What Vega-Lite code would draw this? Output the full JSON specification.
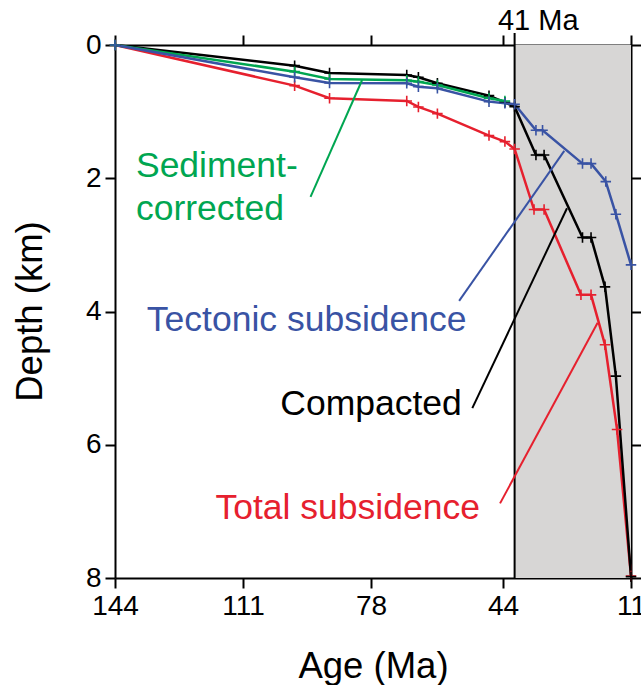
{
  "$schema": "https://vega.github.io/schema/vega-lite/v6.json",
  "width": 516,
  "height": 533,
  "autosize": {"type": "none"},
  "padding": {"left": 115, "top": 45, "right": 10, "bottom": 107},
  "background": "white",
  "config": {
    "view": {"stroke": null},
    "font": "Liberation Sans",
    "axis": {"grid": false, "zindex": 1, "domainColor": "black", "tickColor": "black", "domainWidth": 2, "tickWidth": 2, "labelColor": "black", "titleColor": "black", "labelFont": "Liberation Sans", "titleFont": "Liberation Sans", "titleFontWeight": "normal", "labelFontSize": 28, "titleFontSize": 36.5}
  },
  "datasets": {
    "series": [
      {"series": "Total", "age": 144, "depth": 0},
      {"series": "Total", "age": 97.7, "depth": 0.61},
      {"series": "Total", "age": 88.7, "depth": 0.8},
      {"series": "Total", "age": 68.8, "depth": 0.84},
      {"series": "Total", "age": 65.8, "depth": 0.93},
      {"series": "Total", "age": 60.9, "depth": 1.03},
      {"series": "Total", "age": 47.6, "depth": 1.36},
      {"series": "Total", "age": 43.5, "depth": 1.45},
      {"series": "Total", "age": 41, "depth": 1.56},
      {"series": "Total", "age": 36, "depth": 2.47},
      {"series": "Total", "age": 33.4, "depth": 2.47},
      {"series": "Total", "age": 23.9, "depth": 3.75},
      {"series": "Total", "age": 21.3, "depth": 3.75},
      {"series": "Total", "age": 17.7, "depth": 4.5},
      {"series": "Total", "age": 14.6, "depth": 5.77},
      {"series": "Total", "age": 11, "depth": 7.97},
      {"series": "Compacted", "age": 144, "depth": 0},
      {"series": "Compacted", "age": 97.7, "depth": 0.31},
      {"series": "Compacted", "age": 88.7, "depth": 0.42},
      {"series": "Compacted", "age": 68.8, "depth": 0.45},
      {"series": "Compacted", "age": 65.8, "depth": 0.485},
      {"series": "Compacted", "age": 60.9, "depth": 0.575},
      {"series": "Compacted", "age": 47.6, "depth": 0.76},
      {"series": "Compacted", "age": 43.5, "depth": 0.86},
      {"series": "Compacted", "age": 41, "depth": 0.925},
      {"series": "Compacted", "age": 35.5, "depth": 1.65},
      {"series": "Compacted", "age": 33.4, "depth": 1.65},
      {"series": "Compacted", "age": 23.5, "depth": 2.89},
      {"series": "Compacted", "age": 21.3, "depth": 2.89},
      {"series": "Compacted", "age": 17.7, "depth": 3.63},
      {"series": "Compacted", "age": 14.9, "depth": 4.97},
      {"series": "Compacted", "age": 11, "depth": 7.98},
      {"series": "Sediment", "age": 144, "depth": 0},
      {"series": "Sediment", "age": 97.7, "depth": 0.4},
      {"series": "Sediment", "age": 88.7, "depth": 0.51},
      {"series": "Sediment", "age": 68.8, "depth": 0.53},
      {"series": "Sediment", "age": 65.8, "depth": 0.55},
      {"series": "Sediment", "age": 60.9, "depth": 0.6},
      {"series": "Sediment", "age": 47.6, "depth": 0.8},
      {"series": "Sediment", "age": 43.5, "depth": 0.84},
      {"series": "Tectonic", "age": 144, "depth": 0},
      {"series": "Tectonic", "age": 97.7, "depth": 0.485},
      {"series": "Tectonic", "age": 88.7, "depth": 0.57},
      {"series": "Tectonic", "age": 68.8, "depth": 0.575},
      {"series": "Tectonic", "age": 65.8, "depth": 0.625},
      {"series": "Tectonic", "age": 60.9, "depth": 0.65},
      {"series": "Tectonic", "age": 47.6, "depth": 0.85},
      {"series": "Tectonic", "age": 43.5, "depth": 0.875},
      {"series": "Tectonic", "age": 41, "depth": 0.89},
      {"series": "Tectonic", "age": 35.5, "depth": 1.28},
      {"series": "Tectonic", "age": 33.8, "depth": 1.28},
      {"series": "Tectonic", "age": 23.5, "depth": 1.78},
      {"series": "Tectonic", "age": 21.3, "depth": 1.78},
      {"series": "Tectonic", "age": 17.5, "depth": 2.05},
      {"series": "Tectonic", "age": 14.9, "depth": 2.54},
      {"series": "Tectonic", "age": 11, "depth": 3.3}
    ],
    "leaders": [
      {"series": "Sediment", "age": 93.6, "depth": 2.28, "age2": 80.3, "depth2": 0.525},
      {"series": "Tectonic", "age": 55.3, "depth": 3.84, "age2": 28.2, "depth2": 1.59},
      {"series": "Compacted", "age": 51.9, "depth": 5.45, "age2": 27.5, "depth2": 2.45},
      {"series": "Total", "age": 44.75, "depth": 6.88, "age2": 19.6, "depth2": 4.17}
    ],
    "labels": [
      {"series": "Sediment", "label": "Sediment-", "age": 138.6, "depth": 1.98},
      {"series": "Sediment", "label": "corrected", "age": 138.6, "depth": 2.63},
      {"series": "Tectonic", "label": "Tectonic subsidence", "age": 135.8, "depth": 4.29},
      {"series": "Compacted", "label": "Compacted", "age": 101.4, "depth": 5.56},
      {"series": "Total", "label": "Total subsidence", "age": 118.1, "depth": 7.11}
    ],
    "band": [{"start": 41, "end": 11, "top": 0, "bottom": 8}],
    "marker": [{"age": 41, "top": -0.18, "bottom": 8, "label": "41 Ma", "labelAge": 45.3, "labelDepth": -0.23}]
  },
  "layer": [
    {
      "data": {"name": "band"},
      "mark": {"type": "rect", "color": "#d7d6d5"},
      "encoding": {
        "x": {"field": "start", "type": "quantitative", "scale": {"domain": [11, 144], "reverse": true, "nice": false, "zero": false}, "axis": {"orient": "bottom", "values": [144, 111, 78, 44, 11], "title": "Age (Ma)", "tickSize": 10, "labelPadding": 4, "labelFlush": false, "titleBaseline": "alphabetic", "titleY": 99}},
        "x2": {"field": "end"},
        "y": {"field": "top", "type": "quantitative", "scale": {"domain": [0, 8], "reverse": true, "nice": false, "zero": false}, "axis": {"orient": "left", "values": [0, 2, 4, 6, 8], "title": "Depth (km)", "tickSize": 10, "labelPadding": 4, "labelFlush": false, "titleBaseline": "alphabetic", "titleX": -74, "titleY": 266}},
        "y2": {"field": "bottom"}
      }
    },
    {
      "data": {"name": "marker"},
      "mark": {"type": "rule", "color": "black", "strokeWidth": 2},
      "encoding": {
        "x": {"field": "age", "type": "quantitative", "axis": {"orient": "top", "values": [144, 111, 78, 44, 11], "labels": false, "title": null, "tickSize": 10, "encode": {"ticks": {"update": {"y2": {"value": 10}}}}}},
        "y": {"field": "top", "type": "quantitative", "axis": {"orient": "right", "values": [0, 2, 4, 6, 8], "labels": false, "title": null, "tickSize": 10}},
        "y2": {"field": "bottom"}
      }
    },
    {
      "data": {"name": "marker"},
      "mark": {"type": "text", "align": "left", "baseline": "alphabetic", "fontSize": 29, "color": "black"},
      "encoding": {
        "x": {"field": "labelAge", "type": "quantitative", "axis": null},
        "y": {"field": "labelDepth", "type": "quantitative", "axis": null},
        "text": {"field": "label"}
      }
    },
    {
      "data": {"name": "series"},
      "mark": {"type": "line", "strokeWidth": 2.5},
      "encoding": {
        "x": {"field": "age", "type": "quantitative", "axis": null},
        "y": {"field": "depth", "type": "quantitative", "axis": null},
        "color": {"field": "series", "type": "nominal", "legend": null, "scale": {"domain": ["Total", "Compacted", "Sediment", "Tectonic"], "range": ["#e6202e", "#000000", "#00a651", "#3953a4"]}}
      }
    },
    {
      "data": {"name": "series"},
      "mark": {"type": "point", "shape": "M-1,0H1M0,-1V1", "filled": false, "size": 110, "strokeWidth": 1.6, "opacity": 1},
      "encoding": {
        "x": {"field": "age", "type": "quantitative", "axis": null},
        "y": {"field": "depth", "type": "quantitative", "axis": null},
        "color": {"field": "series", "type": "nominal", "legend": null}
      }
    },
    {
      "data": {"name": "leaders"},
      "mark": {"type": "rule", "strokeWidth": 2},
      "encoding": {
        "x": {"field": "age", "type": "quantitative", "axis": null},
        "y": {"field": "depth", "type": "quantitative", "axis": null},
        "x2": {"field": "age2"},
        "y2": {"field": "depth2"},
        "color": {"field": "series", "type": "nominal", "legend": null}
      }
    },
    {
      "data": {"name": "labels"},
      "mark": {"type": "text", "align": "left", "baseline": "alphabetic", "fontSize": 35.5},
      "encoding": {
        "x": {"field": "age", "type": "quantitative", "axis": null},
        "y": {"field": "depth", "type": "quantitative", "axis": null},
        "text": {"field": "label"},
        "color": {"field": "series", "type": "nominal", "legend": null}
      }
    }
  ],
  "resolve": {"axis": {"x": "independent", "y": "independent"}}
}
